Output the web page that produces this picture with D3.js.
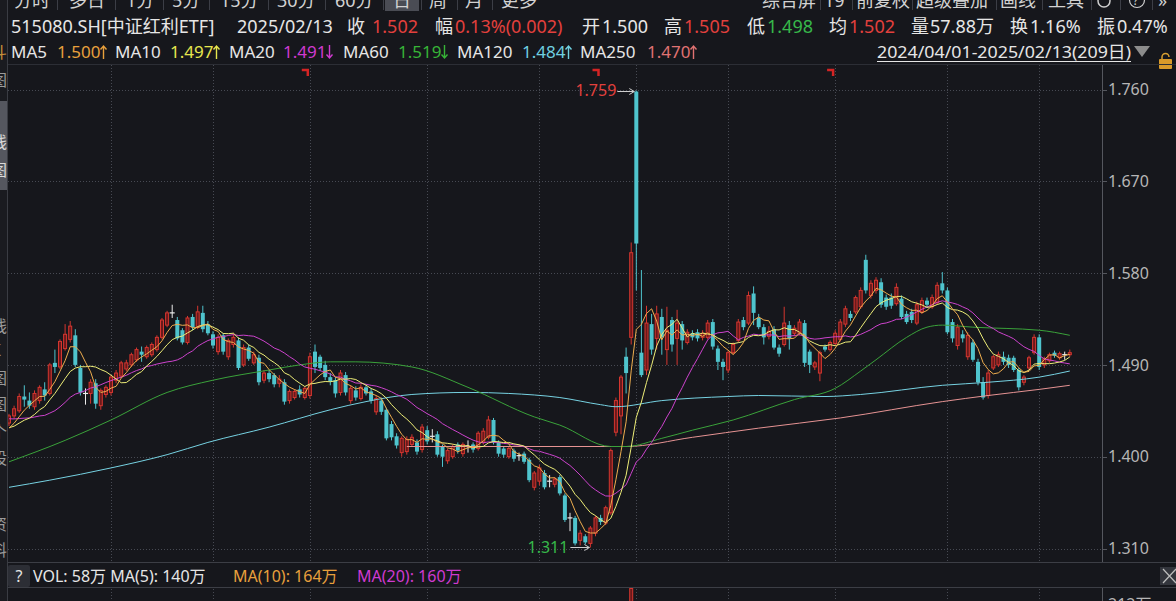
<!DOCTYPE html>
<html lang="zh-CN">
<head>
<meta charset="utf-8">
<title>515080.SH 中证红利ETF 日K</title>
<script src="https://cdn.jsdelivr.net/npm/d3@7"></script>
<style>
  html, body { margin: 0; padding: 0; background: #16171c; overflow: hidden; }
  svg { display: block; font-family: "Noto Sans", "Noto Sans CJK SC", sans-serif; }
</style>
</head>
<body>
<svg id="kline" width="1176" height="601"></svg>
<script>
// ---------- daily bars, 2024/04/01 - 2025/02/13 (209 sessions), one row per month ----------
const open = [
  1.433,1.440,1.445,1.459,1.455,1.449,1.455,1.466,1.462,1.492,1.488,1.506,1.515,1.519,1.487,1.462,1.462,1.472,1.450,1.461,
  1.463,1.475,1.479,1.486,1.490,1.495,1.503,1.498,1.500,1.505,1.517,1.529,1.541,1.534,1.524,1.512,1.537,1.527,1.541,1.530,
  1.520,1.503,1.519,1.498,1.510,1.514,1.490,1.507,1.492,1.497,1.475,1.482,1.480,1.472,1.473,1.455,1.458,1.466,1.458,
  1.460,1.503,1.498,1.490,1.478,1.475,1.463,1.480,1.455,1.465,1.457,1.468,1.464,1.444,1.455,1.446,1.432,1.420,1.404,1.405,1.412,1.414,1.407,
  1.426,1.420,1.422,1.410,1.396,1.400,1.412,1.403,1.410,1.412,1.408,1.414,1.419,1.436,1.414,1.408,1.400,1.406,1.401,1.403,1.397,1.370,
  1.376,1.384,1.376,1.373,1.380,1.362,1.340,1.340,1.318,1.322,1.315,1.325,1.340,1.335,1.345,1.424,1.440,1.498,1.517,
  1.758,1.502,1.485,1.530,1.516,1.537,1.505,1.534,1.516,1.530,1.512,1.521,1.522,1.517,1.517,1.532,1.506,1.493,
  1.485,1.502,1.514,1.534,1.531,1.560,1.536,1.527,1.518,1.525,1.507,1.510,1.529,1.521,1.521,1.531,1.503,1.488,1.482,1.508,1.505,
  1.511,1.515,1.530,1.540,1.542,1.547,1.593,1.558,1.563,1.571,1.556,1.556,1.550,1.555,1.540,1.542,1.531,1.542,1.553,1.547,1.551,1.570,
  1.563,1.532,1.509,1.520,1.498,1.512,1.493,1.473,1.460,1.487,1.490,1.498,1.497,1.497,1.485,1.473,1.487,1.502,
  1.517,1.490,1.494,1.502,1.497,1.500,1.500
];
const high = [
  1.442,1.450,1.462,1.470,1.463,1.465,1.470,1.473,1.492,1.505,1.515,1.530,1.533,1.525,1.490,1.467,1.476,1.476,1.467,1.470,
  1.480,1.485,1.494,1.495,1.502,1.507,1.508,1.509,1.512,1.519,1.536,1.543,1.549,1.537,1.526,1.538,1.540,1.548,1.548,1.533,
  1.523,1.520,1.521,1.516,1.521,1.517,1.510,1.510,1.503,1.500,1.485,1.485,1.482,1.480,1.476,1.466,1.466,1.470,1.469,
  1.502,1.510,1.500,1.494,1.482,1.478,1.485,1.483,1.470,1.469,1.471,1.470,1.467,1.460,1.458,1.448,1.435,1.423,1.420,1.420,1.422,1.417,1.432,
  1.430,1.427,1.425,1.412,1.408,1.412,1.414,1.414,1.416,1.414,1.425,1.428,1.440,1.438,1.416,1.410,1.410,1.408,1.404,1.405,1.399,1.386,
  1.392,1.387,1.382,1.380,1.382,1.364,1.345,1.342,1.328,1.324,1.332,1.342,1.343,1.352,1.408,1.458,1.480,1.507,1.610,
  1.759,1.583,1.548,1.540,1.548,1.545,1.547,1.537,1.544,1.533,1.525,1.524,1.525,1.524,1.534,1.535,1.509,1.496,
  1.504,1.512,1.535,1.537,1.562,1.567,1.540,1.530,1.528,1.528,1.510,1.547,1.533,1.529,1.535,1.534,1.505,1.494,1.504,1.510,1.514,
  1.524,1.535,1.548,1.543,1.558,1.566,1.598,1.573,1.576,1.575,1.559,1.560,1.570,1.558,1.543,1.545,1.552,1.556,1.556,1.559,1.571,1.581,
  1.566,1.535,1.530,1.524,1.522,1.515,1.496,1.478,1.485,1.500,1.503,1.503,1.500,1.499,1.487,1.480,1.499,1.520,
  1.520,1.498,1.502,1.504,1.503,1.503,1.505
];
const low = [
  1.430,1.437,1.443,1.449,1.447,1.446,1.452,1.455,1.460,1.482,1.486,1.504,1.512,1.488,1.460,1.451,1.452,1.447,1.446,1.458,
  1.460,1.472,1.477,1.484,1.488,1.493,1.493,1.496,1.498,1.503,1.515,1.527,1.536,1.514,1.510,1.510,1.524,1.525,1.522,1.519,
  1.506,1.500,1.500,1.495,1.507,1.485,1.488,1.494,1.490,1.470,1.472,1.473,1.468,1.468,1.451,1.452,1.456,1.458,1.456,
  1.457,1.482,1.484,1.475,1.470,1.458,1.460,1.460,1.452,1.455,1.455,1.460,1.452,1.441,1.441,1.416,1.416,1.408,1.400,1.402,1.410,1.402,1.404,
  1.412,1.414,1.400,1.390,1.393,1.398,1.403,1.400,1.404,1.404,1.406,1.412,1.417,1.412,1.400,1.399,1.398,1.395,1.396,1.393,1.375,1.367,
  1.372,1.368,1.370,1.370,1.362,1.336,1.327,1.313,1.313,1.314,1.311,1.322,1.333,1.333,1.343,1.420,1.422,1.462,1.510,
  1.563,1.478,1.480,1.500,1.505,1.500,1.490,1.503,1.490,1.505,1.510,1.514,1.513,1.514,1.515,1.505,1.485,1.475,
  1.482,1.500,1.512,1.524,1.529,1.529,1.525,1.510,1.515,1.505,1.498,1.508,1.505,1.518,1.519,1.488,1.482,1.485,1.474,1.503,1.503,
  1.509,1.513,1.527,1.533,1.540,1.545,1.560,1.555,1.560,1.546,1.544,1.545,1.548,1.535,1.530,1.531,1.529,1.540,1.546,1.545,1.549,1.560,
  1.520,1.512,1.505,1.512,1.495,1.493,1.470,1.456,1.457,1.485,1.488,1.490,1.487,1.483,1.465,1.470,1.485,1.500,
  1.485,1.487,1.492,1.497,1.495,1.495,1.498
];
const close = [
  1.440,1.447,1.459,1.456,1.450,1.462,1.468,1.460,1.490,1.488,1.513,1.520,1.528,1.490,1.463,1.462,1.473,1.452,1.465,1.468,
  1.478,1.482,1.492,1.492,1.500,1.505,1.500,1.507,1.510,1.517,1.534,1.541,1.541,1.516,1.512,1.536,1.527,1.542,1.525,1.521,
  1.509,1.517,1.503,1.514,1.517,1.487,1.507,1.496,1.500,1.473,1.482,1.476,1.471,1.476,1.454,1.464,1.464,1.461,1.467,
  1.498,1.488,1.487,1.478,1.474,1.462,1.482,1.463,1.467,1.458,1.468,1.462,1.455,1.457,1.444,1.418,1.419,1.411,1.418,1.417,1.419,1.405,1.429,
  1.415,1.420,1.402,1.400,1.406,1.410,1.406,1.412,1.410,1.407,1.423,1.425,1.436,1.414,1.403,1.402,1.408,1.398,1.401,1.395,1.377,1.384,
  1.389,1.370,1.376,1.378,1.364,1.338,1.340,1.315,1.325,1.316,1.330,1.340,1.336,1.350,1.406,1.455,1.478,1.482,1.600,
  1.609,1.480,1.531,1.505,1.540,1.517,1.524,1.510,1.531,1.514,1.522,1.517,1.516,1.521,1.531,1.508,1.493,1.488,
  1.502,1.510,1.532,1.527,1.558,1.541,1.527,1.517,1.523,1.507,1.501,1.531,1.516,1.526,1.532,1.492,1.490,1.492,1.502,1.505,1.512,
  1.521,1.532,1.545,1.536,1.556,1.563,1.563,1.570,1.573,1.549,1.547,1.548,1.566,1.537,1.532,1.534,1.549,1.553,1.549,1.556,1.568,1.563,
  1.522,1.516,1.527,1.516,1.519,1.495,1.473,1.458,1.482,1.498,1.500,1.493,1.490,1.485,1.468,1.478,1.497,1.517,
  1.488,1.496,1.500,1.499,1.501,1.500,1.502
];
// closes of the 19 sessions before 2024/04/01, only used to seed MA5/MA10/MA20
const seedCloses = [1.450,1.452,1.448,1.446,1.444,1.447,1.449,1.445,1.441,1.438,1.432,1.429,1.427,1.430,1.426,1.423,1.427,1.424,1.426];

// long averages as [session, value]
const ma60Points = [[0,1.395],[11,1.416],[20,1.436],[31,1.463],[40,1.475],[51,1.485],[57,1.490],[63,1.493],[68,1.493],[79,1.488],[90,1.468],[103,1.439],[108,1.431],[118,1.410],[121,1.410],[128,1.418],[134,1.426],[142,1.436],[154,1.456],[162,1.467],[167,1.484],[170,1.495],[176,1.517],[180,1.527],[183,1.529],[189,1.527],[202,1.524],[208,1.519]];
const ma120Points = [[0,1.370],[8,1.377],[20,1.389],[31,1.402],[39,1.414],[51,1.429],[63,1.446],[70,1.454],[79,1.461],[90,1.463],[98,1.462],[108,1.458],[116,1.451],[119,1.449],[128,1.455],[141,1.459],[147,1.460],[160,1.459],[167,1.461],[183,1.470],[192,1.473],[202,1.478],[208,1.484]];
const ma250Points = [[78,1.410],[100,1.410],[121,1.410],[134,1.419],[147,1.428],[163,1.438],[183,1.454],[192,1.460],[202,1.466],[208,1.470]];

// latest average readings: name, value, direction (+1 rising, -1 falling)
const maNames = ['MA5', 'MA10', 'MA20', 'MA60', 'MA120', 'MA250'];
const maLatest = [1.500, 1.497, 1.491, 1.519, 1.484, 1.470];
const maTrend = [1, 1, -1, -1, 1, 1];

const priceTicks = [1.310, 1.400, 1.490, 1.580, 1.670, 1.760];
const monthStarts = [20, 40, 59, 82, 104, 123, 141, 162, 184, 202];
const eventMarks = [58, 115, 161];
const volSessions = [122];
const volValues = [247];          // 万
const volTicks = [212];           // 万

// ---------- scales ----------
const x = d3.scaleLinear().domain([0, 208]).range([9, 9 + 5.1 * 208]);
const y = d3.scaleLinear().domain([1.31, 1.76]).range([548.5, 89.5]);
const yVol = d3.scaleLinear().domain([0, 247]).range([700, 588]);

const C = {
  bg: '#16171c', text: '#e6e6e6', axis: '#b6b6b6', grid: '#474a53', frame: '#3a3c43',
  red: '#e2403d', green: '#37b84a',
  ma5: '#efae4f', ma10: '#eeee78', ma20: '#cd43cd', ma60: '#3aa23a', ma120: '#76d2e2', ma250: '#e69393',
  t5: '#e8a03c', t10: '#e6e64e', t20: '#d03ad0', t60: '#37b437', t120: '#6fd0e0', t250: '#e07272'
};

const svg = d3.select('#kline');
svg.append('rect').attr('width', 1176).attr('height', 601).attr('fill', C.bg);

const defs = svg.append('defs');
defs.append('clipPath').attr('id', 'price-clip').append('rect')
  .attr('x', 8).attr('y', 65).attr('width', 1094).attr('height', 497);
defs.append('clipPath').attr('id', 'vol-clip').append('rect')
  .attr('x', 8).attr('y', 588).attr('width', 1094).attr('height', 13);
defs.append('clipPath').attr('id', 'rail-clip').append('rect')
  .attr('x', 0).attr('y', 0).attr('width', 7).attr('height', 601);

// ---------- left tool rail (mostly hidden) ----------
const rail = svg.append('g').attr('clip-path', 'url(#rail-clip)');
rail.append('rect').attr('x', 0).attr('y', 0).attr('width', 7).attr('height', 601).attr('fill', '#1a1b20');
rail.append('rect').attr('x', 0).attr('y', 101).attr('width', 7).attr('height', 89).attr('fill', '#55575f');
const railChars = [['斗', 58, '#c8903a'], ['图', 86, '#9a9a9a'], ['线', 148, '#d8d8d8'], ['图', 176, '#d8d8d8'],
  ['线', 332, '#9a9a9a'], ['K', 356, '#9a9a9a'], ['图', 384, '#9a9a9a'], ['图', 410, '#9a9a9a'],
  ['个', 438, '#9a9a9a'], ['股', 464, '#9a9a9a'], ['资', 530, '#9a9a9a'], ['料', 556, '#9a9a9a']];
rail.selectAll('text').data(railChars).join('text')
  .attr('x', -9).attr('y', d => d[1]).attr('font-size', 16).attr('fill', d => d[2]).text(d => d[0]);
svg.append('line').attr('x1', 7.5).attr('x2', 7.5).attr('y1', 0).attr('y2', 601).attr('stroke', C.frame);

// ---------- tab bar (clipped by the top edge) ----------
const tabs = [['分时', 14], ['多日', 69], ['1分', 126], ['5分', 172], ['15分', 220], ['30分', 277], ['60分', 335],
  ['日', 393], ['周', 429], ['月', 465], ['更多', 501]];
const tools = [['综合屏', 762], ['19', 824], ['前复权', 856], ['超级叠加', 916], ['画线', 1000], ['工具', 1048]];
const tabSeps = [57, 115, 163, 209, 268, 325, 383, 421, 457, 492, 820, 852, 912, 996, 1042, 1091, 1120, 1152];
svg.append('rect').attr('x', 385).attr('y', 0).attr('width', 34).attr('height', 11).attr('fill', '#4a4c54');
svg.append('g').selectAll('text').data(tabs.concat(tools)).join('text')
  .attr('x', d => d[1]).attr('y', 7).attr('font-size', 18).attr('fill', '#d2d2d2').text(d => d[0]);
svg.append('g').selectAll('line').data(tabSeps).join('line')
  .attr('x1', d => d + 0.5).attr('x2', d => d + 0.5).attr('y1', 0).attr('y2', 10).attr('stroke', '#3c3e46');
svg.append('circle').attr('cx', 1104).attr('cy', 1).attr('r', 6).attr('fill', 'none').attr('stroke', '#cfcfcf').attr('stroke-width', 1.5);
svg.append('circle').attr('cx', 1137).attr('cy', 0).attr('r', 7.5).attr('fill', 'none').attr('stroke', '#cfcfcf').attr('stroke-width', 1.2);
svg.append('text').attr('x', 1133).attr('y', 5).attr('font-size', 12).attr('fill', '#cfcfcf').text('?');
svg.append('text').attr('x', 1158).attr('y', 7).attr('font-size', 18).attr('fill', '#cfcfcf').text('»');

// ---------- quote line ----------
const quote = [
  ['515080.SH[中证红利ETF]', 11, C.text], ['2025/02/13', 237, C.text],
  ['收', 347, C.text], ['1.502', 372, C.red],
  ['幅', 435, C.text], ['0.13%(0.002)', 455, C.red],
  ['开', 582, C.text], ['1.500', 602, C.text],
  ['高', 664, C.text], ['1.505', 684, C.red],
  ['低', 747, C.text], ['1.498', 767, C.green],
  ['均', 829, C.text], ['1.502', 849, C.red],
  ['量', 911, C.text], ['57.88万', 930, C.text],
  ['换', 1010, C.text], ['1.16%', 1030, C.text],
  ['振', 1097, C.text], ['0.47%', 1117, C.text]
];
svg.append('g').selectAll('text').data(quote).join('text')
  .attr('x', d => d[1]).attr('y', 33).attr('font-size', 18).attr('fill', d => d[2]).text(d => d[0]);

// ---------- moving-average legend ----------
const legendX = [11, 115, 229, 343, 457, 580];   // where each "MAn" label starts
const valueX = [57, 170, 283, 398, 522, 647];    // where each reading starts
const legendColor = [C.t5, C.t10, C.t20, C.t60, C.t120, C.t250];
const legend = svg.append('g');
legend.selectAll('text.name').data(maNames).join('text').attr('class', 'name')
  .attr('x', (d, k) => legendX[k]).attr('y', 58).attr('font-size', 17).attr('fill', C.text).text(d => d);
legend.selectAll('text.val').data(maLatest).join('text').attr('class', 'val')
  .attr('x', (d, k) => valueX[k]).attr('y', 58).attr('font-size', 17).attr('fill', (d, k) => legendColor[k])
  .text(d => d3.format('.3f')(d));
legend.selectAll('path.trend').data(maTrend).join('path').attr('class', 'trend')
  .attr('d', (d, k) => {
    const ax = valueX[k] + 46.5;
    return d > 0
      ? `M${ax},59 V46 M${ax - 3},49.5 L${ax},46 L${ax + 3},49.5`
      : `M${ax},45 V58 M${ax - 3},54.5 L${ax},58 L${ax + 3},54.5`;
  })
  .attr('fill', 'none').attr('stroke', (d, k) => legendColor[k]).attr('stroke-width', 1.4);

svg.append('text').attr('x', 877).attr('y', 58).attr('font-size', 17).attr('fill', C.text)
  .attr('textLength', 254).attr('lengthAdjust', 'spacingAndGlyphs')
  .text('2024/04/01-2025/02/13(209日)');
svg.append('line').attr('x1', 877).attr('x2', 1131).attr('y1', 61.5).attr('y2', 61.5).attr('stroke', C.text);
svg.append('path').attr('d', 'M1134,46 L1150,46 L1142,57 Z').attr('fill', '#8c8c8c');
svg.append('path').attr('d', 'M1162,60 v-3 a3.5,3.5 0 0 1 7,0').attr('fill', 'none').attr('stroke', '#d9a030').attr('stroke-width', 1.5);
svg.append('rect').attr('x', 1159).attr('y', 59).attr('width', 13).attr('height', 10).attr('rx', 1).attr('fill', '#d99a2a');
svg.append('line').attr('x1', 8).attr('x2', 1176).attr('y1', 64.5).attr('y2', 64.5).attr('stroke', '#2c2e35');

// ---------- grid ----------
const grid = svg.append('g');
grid.selectAll('line.h').data(priceTicks).join('line').attr('class', 'h')
  .attr('x1', 8).attr('x2', 1102).attr('y1', d => Math.round(y(d)) + 0.5).attr('y2', d => Math.round(y(d)) + 0.5)
  .attr('stroke', C.grid).attr('stroke-dasharray', '1,2');
grid.selectAll('line.v').data(monthStarts).join('line').attr('class', 'v')
  .attr('x1', d => Math.round(x(d)) + 0.5).attr('x2', d => Math.round(x(d)) + 0.5).attr('y1', 65).attr('y2', 562)
  .attr('stroke', C.grid).attr('stroke-dasharray', '1,2');
grid.selectAll('line.vv').data(monthStarts).join('line').attr('class', 'vv')
  .attr('x1', d => Math.round(x(d)) + 0.5).attr('x2', d => Math.round(x(d)) + 0.5).attr('y1', 589).attr('y2', 601)
  .attr('stroke', C.grid).attr('stroke-dasharray', '1,2');

// ---------- candles ----------
const bars = close.map((c, i) => ({ i, o: open[i], h: high[i], l: low[i], c }));
const tone = d => d.c > d.o ? 'up' : (d.c < d.o ? 'down' : 'flat');
const wickColor = { up: '#d4362f', down: '#4fc4cd', flat: '#ececec' };
const price = svg.append('g').attr('clip-path', 'url(#price-clip)');
const candles = price.append('g');
candles.selectAll('line.wick').data(bars).join('line').attr('class', 'wick')
  .attr('x1', d => x(d.i)).attr('x2', d => x(d.i))
  .attr('y1', d => y(d.h)).attr('y2', d => y(d.l))
  .attr('stroke', d => wickColor[tone(d)]).attr('stroke-width', 1);
candles.selectAll('rect.down').data(bars.filter(d => tone(d) === 'down')).join('rect').attr('class', 'down')
  .attr('x', d => x(d.i) - 2).attr('width', 4)
  .attr('y', d => y(d.o)).attr('height', d => Math.max(1, y(d.c) - y(d.o)))
  .attr('fill', wickColor.down);
candles.selectAll('rect.up').data(bars.filter(d => tone(d) === 'up')).join('rect').attr('class', 'up')
  .attr('x', d => x(d.i) - 1.5).attr('width', 3)
  .attr('y', d => y(d.c)).attr('height', d => Math.max(0.5, y(d.o) - y(d.c)))
  .attr('fill', '#6a191b').attr('stroke', wickColor.up).attr('stroke-width', 1);
candles.selectAll('line.flat').data(bars.filter(d => tone(d) === 'flat')).join('line').attr('class', 'flat')
  .attr('x1', d => x(d.i) - 2.5).attr('x2', d => x(d.i) + 2.5)
  .attr('y1', d => y(d.o)).attr('y2', d => y(d.o))
  .attr('stroke', wickColor.flat).attr('stroke-width', 1.2);

// ---------- moving averages ----------
const history = seedCloses.concat(close);
const movingAverage = n => close.map((_, i) => {
  const end = i + seedCloses.length + 1;
  return [i, d3.mean(history.slice(end - n, end))];
});
const maLine = d3.line().x(d => x(d[0])).y(d => y(d[1]));
const smoothLine = d3.line().x(d => x(d[0])).y(d => y(d[1])).curve(d3.curveMonotoneX);
const maSeries = [
  { pts: ma250Points, gen: smoothLine, color: C.ma250 },
  { pts: ma120Points, gen: smoothLine, color: C.ma120 },
  { pts: ma60Points, gen: smoothLine, color: C.ma60 },
  { pts: movingAverage(20), gen: maLine, color: C.ma20 },
  { pts: movingAverage(10), gen: maLine, color: C.ma10 },
  { pts: movingAverage(5), gen: maLine, color: C.ma5 }
];
price.append('g').selectAll('path').data(maSeries).join('path')
  .attr('d', d => d.gen(d.pts)).attr('fill', 'none')
  .attr('stroke', d => d.color).attr('stroke-width', 1);

// ---------- extreme labels and event marks ----------
const hiIdx = d3.maxIndex(high), loIdx = d3.minIndex(low);
const ann = svg.append('g');
function arrow(x0, x1, yy) {
  ann.append('line').attr('x1', x0).attr('x2', x1).attr('y1', yy).attr('y2', yy).attr('stroke', '#cfcfcf');
  ann.append('path').attr('d', `M${x1 - 5},${yy - 3} L${x1},${yy} L${x1 - 5},${yy + 3}`)
    .attr('fill', 'none').attr('stroke', '#cfcfcf');
}
arrow(x(hiIdx) - 19, x(hiIdx) - 2, Math.round(y(high[hiIdx])) + 0.5);
ann.append('text').attr('x', x(hiIdx) - 20).attr('y', y(high[hiIdx])).attr('dy', '0.36em')
  .attr('text-anchor', 'end').attr('font-size', 16).attr('fill', C.red).text(d3.format('.3f')(high[hiIdx]));
arrow(x(loIdx) - 20, x(loIdx) - 1, Math.round(y(low[loIdx])) + 0.5);
ann.append('text').attr('x', x(loIdx) - 22).attr('y', y(low[loIdx])).attr('dy', '0.36em')
  .attr('text-anchor', 'end').attr('font-size', 16).attr('fill', C.green).text(d3.format('.3f')(low[loIdx]));
ann.selectAll('path.mark').data(eventMarks).join('path').attr('class', 'mark')
  .attr('d', d => `M${x(d) - 3},70 H${x(d) + 3} V76`)
  .attr('fill', 'none').attr('stroke', '#d42424').attr('stroke-width', 2.5);

// ---------- price axis ----------
const axisG = svg.append('g');
axisG.append('line').attr('x1', 1102.5).attr('x2', 1102.5).attr('y1', 65).attr('y2', 562).attr('stroke', '#55575e');
axisG.append('line').attr('x1', 1102.5).attr('x2', 1102.5).attr('y1', 588).attr('y2', 601).attr('stroke', '#55575e');
axisG.selectAll('line.t').data(priceTicks).join('line').attr('class', 't')
  .attr('x1', 1102).attr('x2', 1107).attr('y1', d => Math.round(y(d)) + 0.5).attr('y2', d => Math.round(y(d)) + 0.5)
  .attr('stroke', '#55575e');
axisG.selectAll('text.t').data(priceTicks).join('text').attr('class', 't')
  .attr('x', 1108).attr('y', d => y(d)).attr('dy', '0.36em').attr('font-size', 16).attr('fill', C.axis)
  .text(d => d3.format('.3f')(d));

// ---------- volume header ----------
svg.append('line').attr('x1', 8).attr('x2', 1176).attr('y1', 562.5).attr('y2', 562.5).attr('stroke', '#3c3e45');
svg.append('line').attr('x1', 8).attr('x2', 1176).attr('y1', 587.5).attr('y2', 587.5).attr('stroke', '#3c3e45');
svg.append('rect').attr('x', 8).attr('y', 565).attr('width', 22).attr('height', 22).attr('rx', 2).attr('fill', '#2c2e35');
svg.append('text').attr('x', 19).attr('y', 582).attr('text-anchor', 'middle').attr('font-size', 16).attr('fill', C.text).text('?');
const volLegend = [['VOL: 58万 MA(5): 140万', 33, C.text], ['MA(10): 164万', 233, C.t5], ['MA(20): 160万', 357, C.t20]];
svg.append('g').selectAll('text').data(volLegend).join('text')
  .attr('x', d => d[1]).attr('y', 582).attr('font-size', 16).attr('fill', d => d[2]).text(d => d[0]);
svg.append('rect').attr('x', 1160).attr('y', 567).attr('width', 16).attr('height', 18).attr('fill', '#33353c');
svg.append('path').attr('d', 'M1163,569 L1176,583 M1176,569 L1163,583').attr('stroke', '#bdbdbd').attr('stroke-width', 1.2);

// ---------- volume panel (top edge only) ----------
const volG = svg.append('g').attr('clip-path', 'url(#vol-clip)');
volG.selectAll('rect').data(volSessions.map((s, k) => ({ s, v: volValues[k] }))).join('rect')
  .attr('x', d => x(d.s) - 1.5).attr('width', 3)
  .attr('y', d => yVol(d.v) + 0.5).attr('height', d => yVol(0) - yVol(d.v))
  .attr('fill', '#6a191b').attr('stroke', wickColor.up);
svg.selectAll('text.vt').data(volTicks).join('text').attr('class', 'vt')
  .attr('x', 1108).attr('y', d => yVol(d)).attr('dy', '0.36em').attr('font-size', 16).attr('fill', C.axis)
  .text(d => d + '万');
</script>
</body>
</html>
